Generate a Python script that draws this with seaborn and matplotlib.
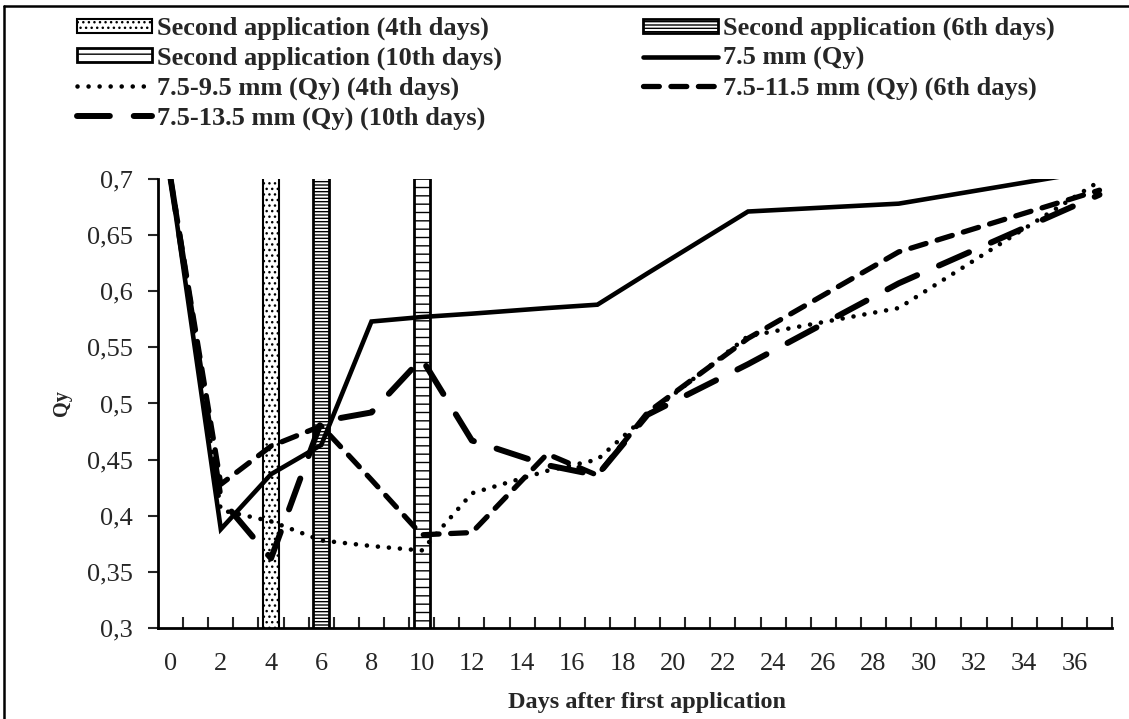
import numpy as np
import pandas as pd
import seaborn as sns
import matplotlib.pyplot as plt
from matplotlib.patches import Patch
from matplotlib.lines import Line2D
from matplotlib.ticker import FixedLocator, FuncFormatter

# days of measurement
days = [0, 2, 4, 6, 8, 10, 12, 15, 17, 19, 23, 29, 37]

qy_75 = [0.700, 0.388, 0.437, 0.463, 0.573, 0.577, 0.580, 0.585, 0.588, 0.616, 0.671, 0.678, 0.708]
qy_95_4th = [0.700, 0.405, 0.395, 0.378, 0.373, 0.369, 0.420, 0.440, 0.450, 0.490, 0.560, 0.585, 0.698]
qy_115_6th = [0.700, 0.428, 0.462, 0.480, 0.432, 0.383, 0.385, 0.455, 0.436, 0.492, 0.558, 0.635, 0.690]
qy_135_10th = [0.700, 0.415, 0.362, 0.484, 0.492, 0.540, 0.467, 0.445, 0.436, 0.490, 0.535, 0.607, 0.686]

# second application markers (bars)
app_days = [4, 6, 10]
app_heights = [0.72, 0.72, 0.72]
app_labels = ['Second application (4th days)', 'Second application (6th days)',
              'Second application (10th days)']

series_labels = ['7.5 mm (Qy)', '7.5-9.5 mm (Qy) (4th days)',
                 '7.5-11.5 mm (Qy) (6th days)', '7.5-13.5 mm (Qy) (10th days)']

sns.set_style('white')
plt.rcParams['font.family'] = ['Liberation Serif', 'DejaVu Serif']
plt.rcParams['hatch.linewidth'] = 1.0

fig = plt.figure(figsize=(11.29, 7.19), dpi=100)
ax = fig.add_axes([0.140, 0.1266, 0.845, 0.6245])

# bars
hatches = ['...', '-----', '--']
edge_lw = [1.5, 2.0, 2.0]
bars = ax.bar(app_days, app_heights, width=0.65, color='white', edgecolor='black', zorder=1)
for b, h, lw in zip(bars, hatches, edge_lw):
    b.set_hatch(h)
    b.set_linewidth(lw)

# lines
styles = [
    dict(linestyle='-', linewidth=3.3),
    dict(linestyle=(0, (0.01, 2.4)), linewidth=3.3, dash_capstyle='round'),
    dict(linestyle=(0, (3, 2.2)), linewidth=3.8, dash_capstyle='round'),
    dict(linestyle=(0, (5.5, 4)), linewidth=4.3, dash_capstyle='round'),
]
all_series = [qy_75, qy_95_4th, qy_115_6th, qy_135_10th]
for vals, st in zip(all_series, styles):
    df = pd.DataFrame({'day': days, 'qy': vals})
    sns.lineplot(data=df, x='day', y='qy', color='black', ax=ax, zorder=3,
                 solid_joinstyle='miter', **st)

ax.set_xlim(-0.5, 37.5)
ax.set_ylim(0.3, 0.7)

ax.set_yticks(np.arange(0.3, 0.701, 0.05))
ax.yaxis.set_major_formatter(FuncFormatter(lambda v, p: f'{v:.2f}'.rstrip('0').replace('.', ',')))
ax.set_xticks(range(0, 37, 2))
ax.xaxis.set_minor_locator(FixedLocator(np.arange(0.5, 37.6, 1)))
ax.tick_params(axis='x', which='major', length=0, pad=18, labelsize=19)
ax.tick_params(axis='x', which='minor', direction='in', length=8, width=1.5, bottom=True)
ax.tick_params(axis='y', direction='out', length=7, width=1.5, left=True, pad=11, labelsize=19)

for s in ['top', 'right']:
    ax.spines[s].set_visible(False)
for s in ['left', 'bottom']:
    ax.spines[s].set_linewidth(2)
    ax.spines[s].set_color('black')

ax.set_xlabel('Days after first application', fontsize=17.5, fontweight='bold')
ax.set_ylabel('Qy', fontsize=14.6, fontweight='bold')
ax.xaxis.set_label_coords(0.513, -0.142)
ax.yaxis.set_label_coords(-0.09, 0.5)

# legend: two columns placed separately
bar_handles = [Patch(facecolor='white', edgecolor='black', hatch=h, linewidth=lw)
               for h, lw in zip(hatches, edge_lw)]
line_handles = [Line2D([], [], color='black', **st) for st in styles]
leg_kw = dict(loc='upper left', frameon=False, borderpad=0, borderaxespad=0,
              handlelength=2.85, handleheight=0.45, handletextpad=0.2, labelspacing=0.24,
              prop={'family': 'Liberation Serif', 'weight': 'bold', 'size': 19})
fig.legend([bar_handles[0], bar_handles[2], line_handles[1], line_handles[3]],
           [app_labels[0], app_labels[2], series_labels[1], series_labels[3]],
           bbox_to_anchor=(77 / 1129, 1 - 17 / 719), **leg_kw)
fig.legend([bar_handles[1], line_handles[0], line_handles[2]],
           [app_labels[1], series_labels[0], series_labels[2]],
           bbox_to_anchor=(643 / 1129, 1 - 17 / 719), **leg_kw)

# outer frame lines (left and top)
fig.add_artist(Line2D([4 / 1129, 4 / 1129], [0, 1 - 6 / 719], transform=fig.transFigure,
                      color='black', linewidth=1.8))
fig.add_artist(Line2D([4 / 1129, 1], [1 - 6 / 719, 1 - 6 / 719], transform=fig.transFigure,
                      color='black', linewidth=1.8))

fig.savefig('out.png', dpi=100)
